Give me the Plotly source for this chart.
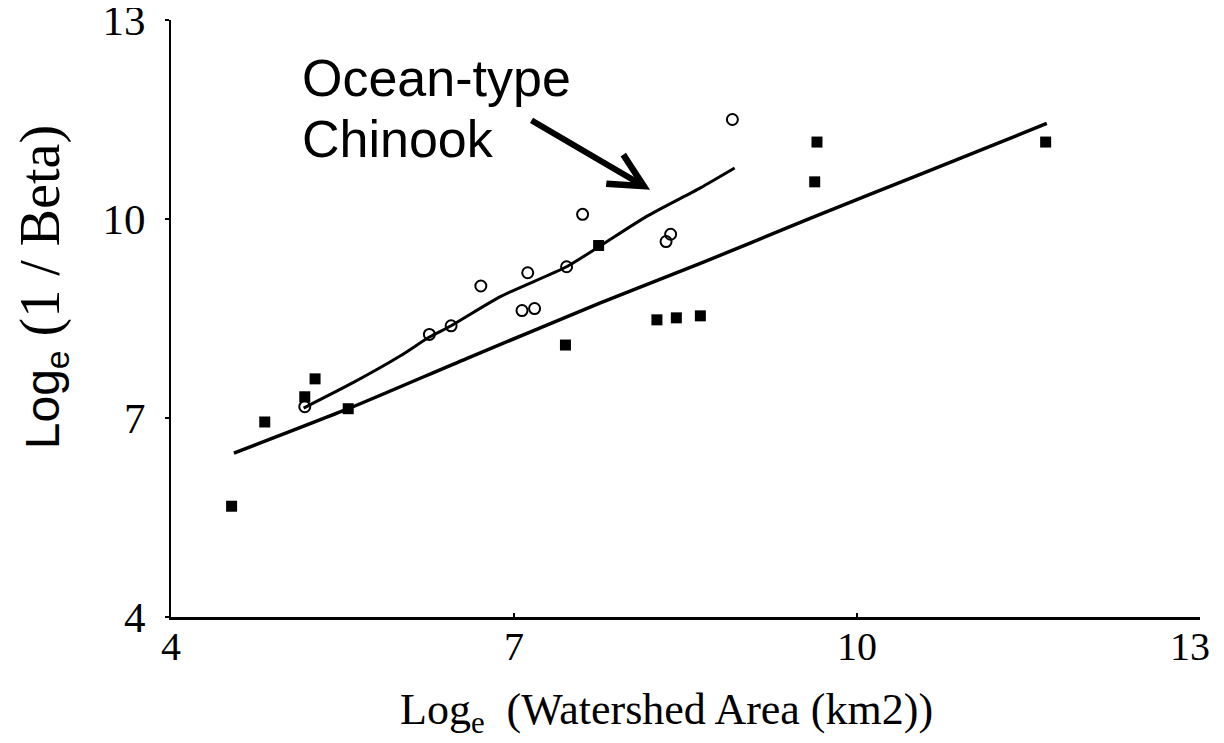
import plotly.graph_objects as go

# filled squares
stream_x = [4.53, 4.82, 5.17, 5.26, 5.55, 7.45, 7.74, 8.25, 8.42, 8.63, 9.63, 9.65, 11.65]
stream_y = [5.67, 6.94, 7.32, 7.59, 7.14, 8.10, 9.60, 8.48, 8.51, 8.54, 10.56, 11.16, 11.16]

# open circles (ocean-type chinook)
ocean_x = [5.17, 6.26, 6.45, 6.71, 7.07, 7.12, 7.18, 7.46, 7.60, 8.33, 8.37, 8.91]
ocean_y = [7.17, 8.26, 8.39, 8.99, 8.62, 9.19, 8.65, 9.28, 10.07, 9.66, 9.77, 11.50]

# fitted lines
ocean_fit_x = [5.16, 5.60, 6.00, 6.26, 6.45, 6.88, 7.46, 7.75, 8.16, 8.63, 8.93]
ocean_fit_y = [7.15, 7.54, 7.93, 8.22, 8.39, 8.83, 9.28, 9.59, 10.04, 10.47, 10.77]

all_fit_x = [4.55, 5.55, 6.59, 7.75, 8.63, 9.07, 9.59, 10.58, 11.66]
all_fit_y = [6.47, 7.14, 7.90, 8.73, 9.33, 9.64, 10.01, 10.69, 11.44]

ticks = [4, 7, 10, 13]
# last x label padded so it stays inside the window
x_tick_labels = ["4", "7", "10", "13\u00a0\u00a0"]

serif = "Liberation Serif"
sans = "Liberation Sans"

fig = go.Figure()

fig.add_trace(go.Scatter(x=all_fit_x, y=all_fit_y, mode="lines",
                         line=dict(color="black", width=3.5, shape="spline", smoothing=0.6),
                         showlegend=False))
fig.add_trace(go.Scatter(x=ocean_fit_x, y=ocean_fit_y, mode="lines",
                         line=dict(color="black", width=3, shape="spline", smoothing=0.6),
                         showlegend=False))
fig.add_trace(go.Scatter(x=stream_x, y=stream_y, mode="markers",
                         marker=dict(symbol="square", color="black", size=11),
                         showlegend=False))
fig.add_trace(go.Scatter(x=ocean_x, y=ocean_y, mode="markers",
                         marker=dict(symbol="circle-open", color="black", size=11,
                                     line=dict(width=2)),
                         showlegend=False))

# label and arrow
fig.add_annotation(x=5.13, y=12.13, text="Ocean-type", showarrow=False,
                   xanchor="left", yanchor="middle",
                   font=dict(family=sans, size=52, color="black"))
fig.add_annotation(x=5.13, y=11.20, text="Chinook", showarrow=False,
                   xanchor="left", yanchor="middle",
                   font=dict(family=sans, size=52, color="black"))
fig.add_annotation(x=8.19, y=10.44, ax=7.14, ay=11.50, axref="x", ayref="y",
                   text="", showarrow=True, arrowhead=5, arrowwidth=6,
                   arrowsize=1.1, arrowcolor="black")

# axis titles
fig.add_annotation(xref="paper", yref="paper", x=0.482, y=-0.16,
                   text="Log<sub>e</sub>  (Watershed Area (km2))", showarrow=False,
                   xanchor="center", yanchor="middle",
                   font=dict(family=serif, size=44, color="black"))
fig.add_annotation(xref="paper", yref="paper", x=-0.125, y=0.553, textangle=-90,
                   text=f'<span style="font-family:{sans};font-size:48px">Log<sub>e</sub></span> (1 / Beta)',
                   showarrow=False, xanchor="center", yanchor="middle",
                   font=dict(family=serif, size=56, color="black"))

fig.update_xaxes(range=[4, 13], tickvals=ticks, ticktext=x_tick_labels,
                 showgrid=False, zeroline=False,
                 showline=True, linecolor="black", linewidth=3, automargin=False,
                 ticks="inside", ticklen=4, tickwidth=2, tickcolor="black",
                 ticklabelstandoff=-8, ticklabeloverflow="allow",
                 tickfont=dict(family=serif, size=40, color="black"))
fig.update_yaxes(range=[4, 13], tickvals=ticks, showgrid=False, zeroline=False,
                 showline=True, linecolor="black", linewidth=2, automargin=False,
                 ticks="outside", ticklen=4, tickwidth=2, tickcolor="black",
                 ticklabelstandoff=11, ticklabeloverflow="allow",
                 tickfont=dict(family=serif, size=43, color="black"))

# page body has an 8px margin, so the figure is drawn smaller and offset
fig.update_layout(width=1216, height=727, plot_bgcolor="white", paper_bgcolor="white",
                  margin=dict(l=163, r=24, t=12, b=118))

fig.write_html("out.html")
